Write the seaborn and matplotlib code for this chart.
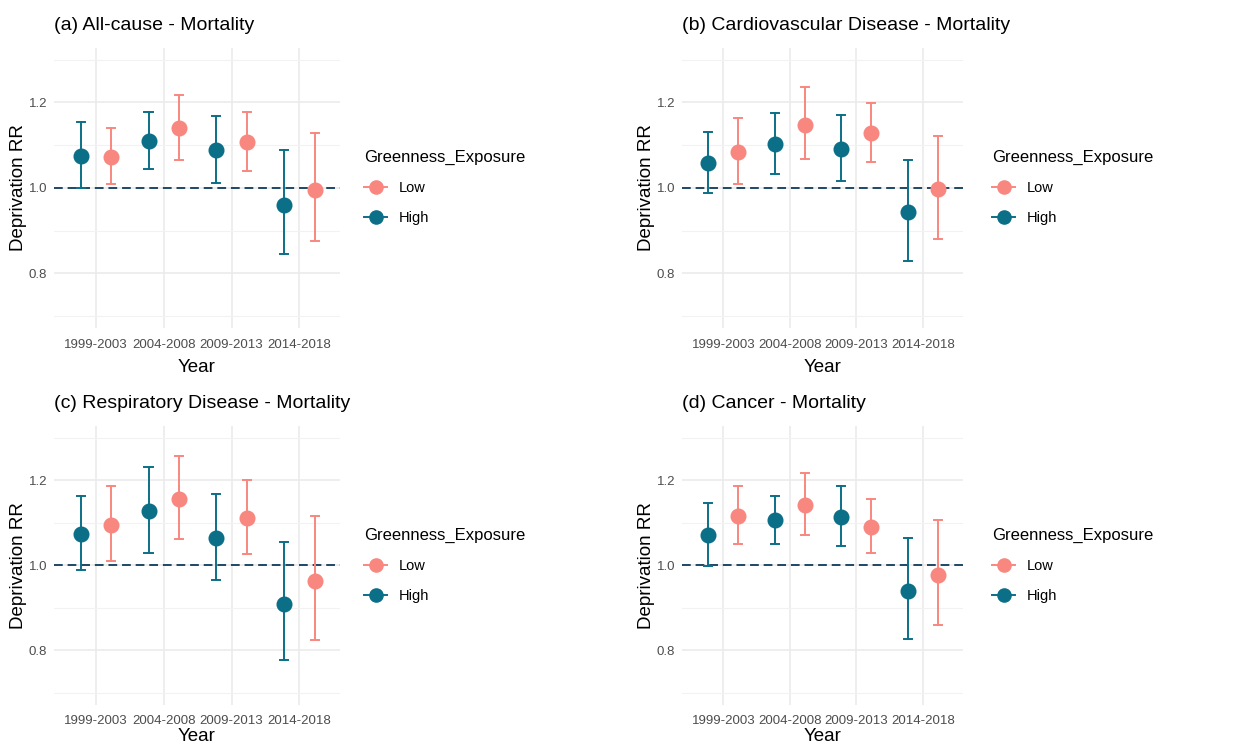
import numpy as np
import pandas as pd
import seaborn as sns
import matplotlib.pyplot as plt
from matplotlib.lines import Line2D
from matplotlib.ticker import MultipleLocator

# periods on the x axis
years = ["1999-2003", "2004-2008", "2009-2013", "2014-2018"]
groups = ["High", "Low"]
titles = ["(a) All-cause - Mortality",
          "(b) Cardiovascular Disease - Mortality",
          "(c) Respiratory Disease - Mortality",
          "(d) Cancer - Mortality"]

# relative risks with lower / upper 95% CI
allcause_high = [1.075, 1.109, 1.088, 0.960]
allcause_high_lo = [0.999, 1.043, 1.012, 0.844]
allcause_high_hi = [1.153, 1.178, 1.168, 1.088]
allcause_low = [1.073, 1.140, 1.106, 0.994]
allcause_low_lo = [1.009, 1.066, 1.040, 0.875]
allcause_low_hi = [1.139, 1.217, 1.177, 1.129]

cvd_high = [1.058, 1.103, 1.091, 0.943]
cvd_high_lo = [0.988, 1.033, 1.016, 0.829]
cvd_high_hi = [1.130, 1.174, 1.170, 1.066]
cvd_low = [1.084, 1.148, 1.128, 0.996]
cvd_low_lo = [1.009, 1.068, 1.060, 0.881]
cvd_low_hi = [1.164, 1.236, 1.198, 1.122]

resp_high = [1.073, 1.128, 1.064, 0.909]
resp_high_lo = [0.988, 1.030, 0.966, 0.778]
resp_high_hi = [1.162, 1.230, 1.167, 1.055]
resp_low = [1.095, 1.155, 1.110, 0.962]
resp_low_lo = [1.009, 1.062, 1.027, 0.824]
resp_low_hi = [1.186, 1.257, 1.200, 1.116]

cancer_high = [1.071, 1.106, 1.113, 0.939]
cancer_high_lo = [0.999, 1.050, 1.045, 0.827]
cancer_high_hi = [1.146, 1.163, 1.186, 1.065]
cancer_low = [1.116, 1.141, 1.091, 0.977]
cancer_low_lo = [1.051, 1.070, 1.028, 0.859]
cancer_low_hi = [1.186, 1.217, 1.155, 1.107]

panels = [
    (allcause_high, allcause_high_lo, allcause_high_hi, allcause_low, allcause_low_lo, allcause_low_hi),
    (cvd_high, cvd_high_lo, cvd_high_hi, cvd_low, cvd_low_lo, cvd_low_hi),
    (resp_high, resp_high_lo, resp_high_hi, resp_low, resp_low_lo, resp_low_hi),
    (cancer_high, cancer_high_lo, cancer_high_hi, cancer_low, cancer_low_lo, cancer_low_hi),
]

colors = {"Low": "#F8877F", "High": "#0B6F87"}

plt.rcParams["font.family"] = ["Liberation Sans", "DejaVu Sans"]


# long table: three rows per point (lower, estimate, upper) so that
# median = estimate and the 100% interval = CI
def make_frame(hr, hlo, hhi, lr, llo, lhi):
    rows = []
    for g, est, lo, hi in [("High", hr, hlo, hhi), ("Low", lr, llo, lhi)]:
        for i, yr in enumerate(years):
            for v in (lo[i], est[i], hi[i]):
                rows.append({"Year": yr, "Greenness_Exposure": g, "RR": v})
    return pd.DataFrame(rows)


fig = plt.figure(figsize=(12.47, 7.48), dpi=100)
W, H = 1247, 748
boxes = [(54, 48, 286, 280), (682, 48, 281, 280),
         (54, 426, 286, 279), (682, 426, 281, 279)]
legend_pos = [(351, 137), (979, 137), (351, 515), (979, 515)]

for k, vals in enumerate(panels):
    x0, y0, w, h = boxes[k]
    ax = fig.add_axes([x0 / W, 1 - (y0 + h) / H, w / W, h / H])
    df = make_frame(*vals)
    sns.pointplot(data=df, x="Year", y="RR", hue="Greenness_Exposure",
                  order=years, hue_order=groups, palette=colors,
                  estimator="median", errorbar=("pi", 100),
                  dodge=0.45, linestyle="none", markers="o",
                  markersize=9.5, capsize=0.12,
                  err_kws={"linewidth": 1.4}, ax=ax, zorder=3)
    ax.axhline(1.0, color="#1d4866", ls=(0, (4.5, 2.5)), lw=1.4, zorder=2)
    if ax.get_legend() is not None:
        ax.get_legend().remove()

    ax.set_xlim(-0.62, 3.6)
    ax.set_ylim(0.672, 1.327)
    ax.set_yticks([0.8, 1.0, 1.2])
    ax.set_yticklabels(["0.8", "1.0", "1.2"])
    ax.yaxis.set_minor_locator(MultipleLocator(0.1))
    ax.set_facecolor("white")
    for s in ax.spines.values():
        s.set_visible(False)
    ax.grid(True, which="major", color="#EBEBEB", lw=1.2, zorder=0)
    ax.grid(True, which="minor", axis="y", color="#F2F2F2", lw=0.8, zorder=0)
    ax.set_axisbelow(True)
    ax.tick_params(which="both", length=0, labelsize=9.5, labelcolor="#4D4D4D")
    ax.tick_params(axis="x", pad=8 if k < 2 else 7)
    ax.tick_params(axis="y", pad=5)
    ax.set_xlabel("Year", fontsize=13.5, labelpad=6 if k < 2 else 1)
    ax.set_ylabel("Deprivation RR", fontsize=13.5, labelpad=1)
    ax.set_title(titles[k], loc="left", fontsize=14, pad=13, x=0.0)

    handles = [Line2D([0], [0], color=colors[g], marker="o", markersize=9.5, lw=1.4)
               for g in ["Low", "High"]]
    lx, ly = legend_pos[k]
    ax.legend(handles, ["Low", "High"], title="Greenness_Exposure",
              loc="upper left", bbox_to_anchor=(lx / W, 1 - ly / H),
              bbox_transform=fig.transFigure, frameon=False,
              fontsize=10.5, title_fontsize=12, handlelength=1.6,
              alignment="left", labelspacing=1.1)

fig.savefig("out.png", dpi=100)
